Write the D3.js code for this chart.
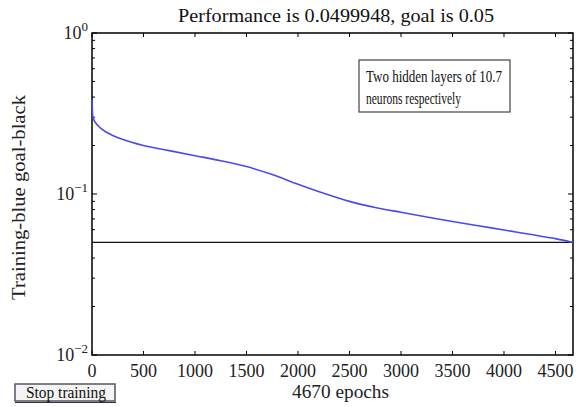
<!DOCTYPE html>
<html><head><meta charset="utf-8">
<script src="https://cdn.jsdelivr.net/npm/d3@7"></script>
<style>
body{margin:0;background:#fff;}
svg{display:block;}
</style></head>
<body>
<svg id="c" width="582" height="407"></svg>
<script>
const epochs = [0, 8, 60, 150, 300, 500, 750, 1000, 1250, 1500, 1750, 2000, 2250, 2500, 2750, 3000, 3250, 3500, 3750, 4000, 4250, 4500, 4670];
const perf   = [0.384, 0.30, 0.265, 0.240, 0.218, 0.200, 0.186, 0.173, 0.161, 0.148, 0.132, 0.115, 0.101, 0.0900, 0.0825, 0.0770, 0.0720, 0.0675, 0.0635, 0.0598, 0.0562, 0.0528, 0.05];
const goal = 0.05;
const xTicks = [0,500,1000,1500,2000,2500,3000,3500,4000,4500];
const yMajor = [-2,-1,0];

const FF = "Liberation Serif";
const svg = d3.select("#c");
const L=92, R=573, T=33, B=355;
const x = d3.scaleLinear().domain([0,4670]).range([L,R]);
const y = d3.scaleLog().domain([0.01,1]).range([B,T]);

function txt(parent){ return parent.append("text").attr("font-family",FF); }

// frame
svg.append("rect").attr("x",L).attr("y",T).attr("width",R-L).attr("height",B-T)
  .attr("fill","#fff").attr("stroke","#000").attr("stroke-width",1.5);

// ticks
const tk = svg.append("g").attr("stroke","#000").attr("stroke-width",1);
xTicks.forEach(t=>{
  tk.append("line").attr("x1",x(t)).attr("x2",x(t)).attr("y1",B).attr("y2",B-4);
  tk.append("line").attr("x1",x(t)).attr("x2",x(t)).attr("y1",T).attr("y2",T+4);
});
const yt=[];
for(let e=-2;e<0;e++){ for(let m=1;m<10;m++) yt.push({v:m*Math.pow(10,e),major:m===1}); }
yt.push({v:1,major:true});
yt.forEach(d=>{
  const len = d.major?5:3;
  tk.append("line").attr("x1",L).attr("x2",L+len).attr("y1",y(d.v)).attr("y2",y(d.v));
  tk.append("line").attr("x1",R).attr("x2",R-len).attr("y1",y(d.v)).attr("y2",y(d.v));
});

// x tick labels
svg.append("g").selectAll("text").data(xTicks).join("text")
  .attr("font-family",FF)
  .attr("x",d=>x(d)).attr("y",377).attr("text-anchor","middle")
  .attr("font-size",18).attr("fill","#222").text(d=>d);

// y tick labels
yMajor.forEach(e=>{
  const t = txt(svg).attr("x",88).attr("y",y(Math.pow(10,e))+6)
    .attr("text-anchor","end").attr("font-size",18).attr("fill","#222");
  t.append("tspan").text("10");
  t.append("tspan").attr("dy",-8).attr("font-size",13).text(String(e).replace("-","\u2212"));
});

// goal line
svg.append("line").attr("x1",x(0)).attr("x2",x(4670)).attr("y1",y(goal)).attr("y2",y(goal))
  .attr("stroke","#111").attr("stroke-width",1.3);

// performance line
const line = d3.line().x((d,i)=>x(epochs[i])).y(d=>y(d)).curve(d3.curveMonotoneX);
svg.append("path").datum(perf).attr("d",line).attr("fill","none")
  .attr("stroke","#4a4aef").attr("stroke-width",1.6);

// title
txt(svg).attr("x",178).attr("y",22).attr("font-size",18).attr("fill","#111")
  .attr("textLength",316).attr("lengthAdjust","spacingAndGlyphs")
  .text("Performance is 0.0499948, goal is 0.05");

// annotation box
svg.append("rect").attr("x",359).attr("y",60).attr("width",151).attr("height",52)
  .attr("fill","#fff").attr("stroke","#444").attr("stroke-width",1.2);
txt(svg).attr("x",366).attr("y",82).attr("font-size",16).attr("fill","#111")
  .attr("textLength",136).attr("lengthAdjust","spacingAndGlyphs")
  .text("Two hidden layers of 10.7");
txt(svg).attr("x",366).attr("y",104).attr("font-size",16).attr("fill","#111")
  .attr("textLength",95).attr("lengthAdjust","spacingAndGlyphs")
  .text("neurons respectively");

// axis labels
txt(svg).attr("x",292).attr("y",398).attr("font-size",18).attr("fill","#222")
  .attr("textLength",97).attr("lengthAdjust","spacingAndGlyphs").text("4670 epochs");
txt(svg).attr("transform","translate(25,300) rotate(-90)")
  .attr("font-size",18).attr("fill","#222")
  .attr("textLength",205).attr("lengthAdjust","spacingAndGlyphs").text("Training-blue goal-black");

// stop training button
svg.append("rect").attr("x",15).attr("y",384).attr("width",100).attr("height",17)
  .attr("fill","#f4f4f4").attr("stroke","#556").attr("stroke-width",1.5);
svg.append("line").attr("x1",15).attr("x2",116).attr("y1",402.5).attr("y2",402.5).attr("stroke","#333");
txt(svg).attr("x",26).attr("y",398).attr("font-size",16).attr("fill","#111")
  .attr("textLength",80).attr("lengthAdjust","spacingAndGlyphs").text("Stop training");
</script>
</body></html>
